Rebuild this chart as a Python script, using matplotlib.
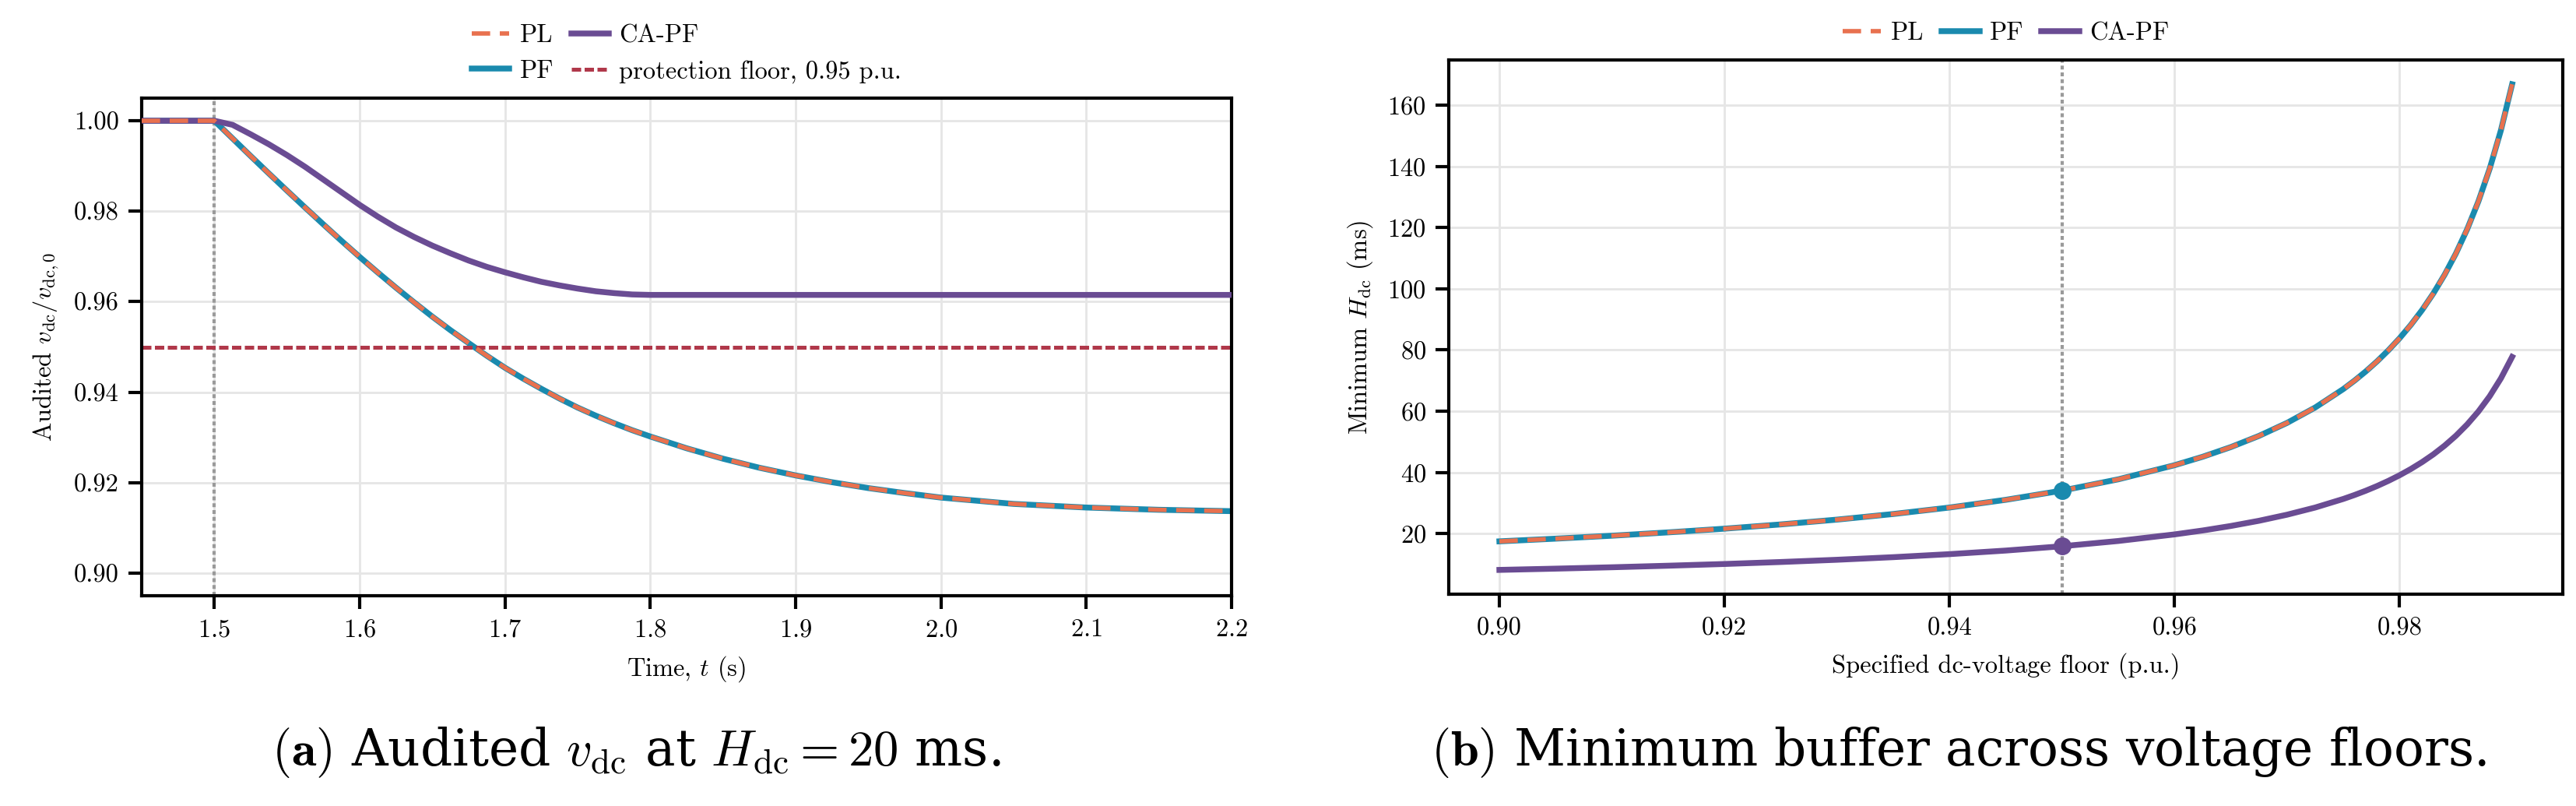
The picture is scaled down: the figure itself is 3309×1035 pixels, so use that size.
import numpy as np
import matplotlib
matplotlib.use('Agg')
import matplotlib.pyplot as plt

plt.rcParams['font.family'] = 'serif'
plt.rcParams['font.serif'] = ['cmr10']
plt.rcParams['mathtext.fontset'] = 'cm'
plt.rcParams['axes.formatter.use_mathtext'] = True
plt.rcParams['font.size'] = 7.8

# ---- colours
C_PL = '#E8714F'
C_PF = '#1A8AAE'
C_CA = '#6A4C93'
C_FLOOR = '#B0384A'
C_REF = '#9A9A9A'

# ---- (a) audited dc voltage at H_dc = 20 ms
t_s = [1.45, 1.50, 1.5125, 1.525, 1.5375, 1.55, 1.5625, 1.575, 1.5875, 1.60,
       1.6125, 1.625, 1.6375, 1.65, 1.6625, 1.675, 1.6875, 1.70, 1.7125, 1.725,
       1.7375, 1.75, 1.7625, 1.775, 1.7875, 1.80, 1.825, 1.85, 1.875, 1.90,
       1.925, 1.95, 1.975, 2.00, 2.05, 2.10, 2.15, 2.20]
v_pl = [1.0, 1.0, 0.9961, 0.9922, 0.98835, 0.98455, 0.9808, 0.9771, 0.97345,
        0.9699, 0.96645, 0.9631, 0.95985, 0.9567, 0.9537, 0.95085, 0.94805,
        0.9454, 0.9430, 0.94075, 0.9386, 0.9366, 0.9348, 0.93315, 0.9316,
        0.9302, 0.9276, 0.9253, 0.9233, 0.9216, 0.9201, 0.9188, 0.9177,
        0.9167, 0.9153, 0.9145, 0.9140, 0.9137]
v_pf = [1.0, 1.0, 0.9961, 0.9922, 0.98835, 0.98455, 0.9808, 0.9771, 0.97345,
        0.9699, 0.96645, 0.9631, 0.95985, 0.9567, 0.9537, 0.95085, 0.94805,
        0.9454, 0.9430, 0.94075, 0.9386, 0.9366, 0.9348, 0.93315, 0.9316,
        0.9302, 0.9276, 0.9253, 0.9233, 0.9216, 0.9201, 0.9188, 0.9177,
        0.9167, 0.9153, 0.9145, 0.9140, 0.9137]
v_ca = [1.0, 1.0, 0.9991, 0.9970, 0.9948, 0.9924, 0.9898, 0.9870, 0.9842,
        0.9814, 0.9788, 0.9764, 0.9743, 0.9724, 0.9707, 0.9691, 0.9677,
        0.9665, 0.9654, 0.9644, 0.9636, 0.9629, 0.9623, 0.9619, 0.9616,
        0.9615, 0.9615, 0.9615, 0.9615, 0.9615, 0.9615, 0.9615, 0.9615,
        0.9615, 0.9615, 0.9615, 0.9615, 0.9615]
t_fault = 1.5
v_floor = 0.95

# ---- (b) minimum buffer vs specified floor
floor_pu = [0.900, 0.905, 0.910, 0.915, 0.920, 0.925, 0.930, 0.935, 0.940,
            0.945, 0.950, 0.955, 0.960, 0.9625, 0.965, 0.9675, 0.970, 0.9725,
            0.975, 0.976, 0.977, 0.978, 0.979, 0.980, 0.981, 0.982, 0.983,
            0.984, 0.985, 0.986, 0.987, 0.988, 0.989, 0.990]
h_pl = [17.47, 18.35, 19.31, 20.40, 21.61, 23.00, 24.57, 26.40, 28.52, 31.04,
        34.05, 37.74, 42.35, 45.11, 48.27, 51.92, 56.18, 61.21, 67.24, 70.01,
        73.01, 76.29, 79.89, 83.84, 88.21, 93.06, 98.48, 104.59, 111.50,
        119.41, 128.53, 139.17, 151.74, 166.83]
h_pf = [17.47, 18.35, 19.31, 20.40, 21.61, 23.00, 24.57, 26.40, 28.52, 31.04,
        34.05, 37.74, 42.35, 45.11, 48.27, 51.92, 56.18, 61.21, 67.24, 70.01,
        73.01, 76.29, 79.89, 83.84, 88.21, 93.06, 98.48, 104.59, 111.50,
        119.41, 128.53, 139.17, 151.74, 166.83]
h_ca = [8.14, 8.55, 9.00, 9.51, 10.07, 10.72, 11.45, 12.30, 13.29, 14.46,
        15.87, 17.59, 19.74, 21.02, 22.49, 24.19, 26.18, 28.52, 31.33, 32.62,
        34.02, 35.55, 37.23, 39.07, 41.11, 43.37, 45.89, 48.74, 51.96, 55.65,
        59.89, 64.85, 70.71, 77.74]
floor_mark = 0.95
h_pf_mark = 34.05
h_ca_mark = 15.87


def style_axes(ax):
    for s in ax.spines.values():
        s.set_linewidth(1.0)
    ax.tick_params(direction='out', length=4, width=1.0, pad=3)
    ax.grid(True, color='#e6e6e6', lw=0.7)
    ax.set_axisbelow(True)


def top_legend(ax, names, ncol):
    h, l = ax.get_legend_handles_labels()
    idx = [l.index(k) for k in names]
    ax.legend([h[i] for i in idx], [l[i] for i in idx], ncol=ncol,
              loc='lower center', bbox_to_anchor=(0.5, 1.01), frameon=False,
              handlelength=1.5, handletextpad=0.4, columnspacing=0.7,
              borderaxespad=0.0)


W, H = 3309, 1035
fig = plt.figure(figsize=(W / 300, H / 300), dpi=300)

ax1 = fig.add_axes([182 / W, 1 - 765 / H, 1400 / W, 639 / H])
style_axes(ax1)
ax1.axvline(t_fault, color=C_REF, lw=1.0, dashes=(1.2, 0.9), zorder=1)
ax1.plot(t_s, v_pf, color=C_PF, lw=1.8, label='PF', zorder=2)
ax1.plot(t_s, v_ca, color=C_CA, lw=1.8, label='CA-PF', zorder=3)
ax1.plot(t_s, v_pl, color=C_PL, lw=1.35, dashes=(4.2, 2.2), label='PL', zorder=4)
ax1.axhline(v_floor, color=C_FLOOR, lw=1.2, dashes=(2.4, 0.9),
            label='protection floor, 0.95 p.u.', zorder=2)
ax1.set_xlim(1.45, 2.2)
ax1.set_ylim(0.895, 1.005)
ax1.set_yticks(np.arange(0.90, 1.001, 0.02))
ax1.yaxis.set_major_formatter(matplotlib.ticker.FormatStrFormatter('%.2f'))
ax1.set_xlabel(r'Time, $t$ (s)')
ax1.set_ylabel(r'Audited $v_{\mathrm{dc}}/v_{\mathrm{dc},0}$')
top_legend(ax1, ['PL', 'PF', 'CA-PF', 'protection floor, 0.95 p.u.'], 2)

ax2 = fig.add_axes([1861 / W, 1 - 763 / H, 1431 / W, 686 / H])
style_axes(ax2)
ax2.axvline(floor_mark, color=C_REF, lw=1.0, dashes=(1.2, 0.9), zorder=1)
ax2.plot(floor_pu, h_pf, color=C_PF, lw=1.8, label='PF', zorder=2)
ax2.plot(floor_pu, h_ca, color=C_CA, lw=1.8, label='CA-PF', zorder=3)
ax2.plot(floor_pu, h_pl, color=C_PL, lw=1.35, dashes=(4.2, 2.2), label='PL', zorder=4)
ax2.plot([floor_mark], [h_pf_mark], 'o', color=C_PF, ms=4.5, zorder=5)
ax2.plot([floor_mark], [h_ca_mark], 'o', color=C_CA, ms=4.5, zorder=5)
ax2.set_xticks([0.90, 0.92, 0.94, 0.96, 0.98])
ax2.xaxis.set_major_formatter(matplotlib.ticker.FormatStrFormatter('%.2f'))
ax2.set_yticks(np.arange(20, 161, 20))
ax2.set_xlabel('Specified dc-voltage floor (p.u.)')
ax2.set_ylabel(r'Minimum $H_{\mathrm{dc}}$ (ms)')
top_legend(ax2, ['PL', 'PF', 'CA-PF'], 3)

cap = dict(ha='center', va='center', fontsize=15.5, family='DejaVu Serif')
fig.text(817 / W, 1 - 966 / H,
         r'$\mathbf{(a)}$ Audited $v_{\mathrm{dc}}$ at $H_{\mathrm{dc}} = 20$ ms.', **cap)
fig.text(2516 / W, 1 - 966 / H,
         r'$\mathbf{(b)}$ Minimum buffer across voltage floors.', **cap)

fig.savefig('out.png', dpi=300)
